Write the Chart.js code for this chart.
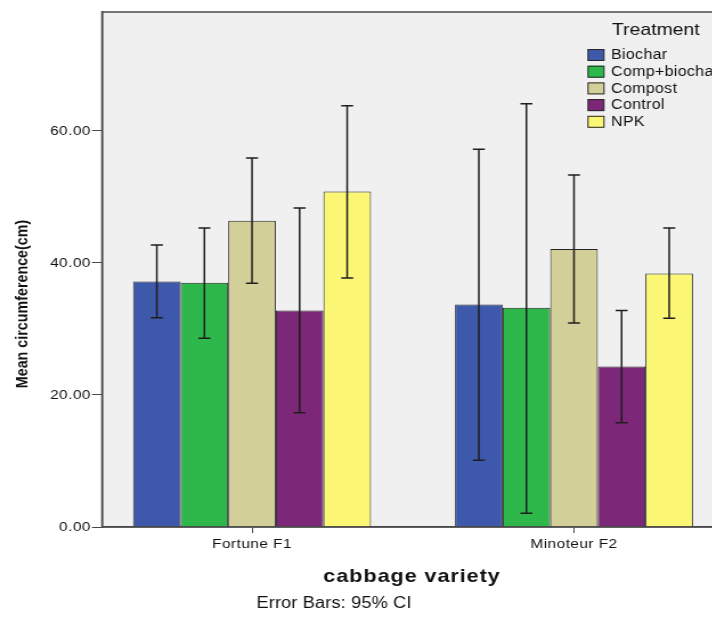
<!DOCTYPE html>
<html>
<head>
<meta charset="utf-8">
<script src="https://cdn.jsdelivr.net/npm/chart.js@4/dist/chart.umd.min.js"></script>
<style>
  html, body { margin: 0; padding: 0; background: #fff; overflow: hidden; }
  #wrap { width: 712px; height: 619px; overflow: hidden; }
  /* the original picture is stretched sideways, so the canvas is too */
  #myChart { transform: scaleX(1.14); transform-origin: 0 0; }
</style>
</head>
<body>
<div id="wrap"><canvas id="myChart" width="641" height="619"></canvas></div>
<script>
// data
var varieties = ['Fortune F1', 'Minoteur F2'];
var treatments = ['Biochar', 'Comp+biochar', 'Compost', 'Control', 'NPK'];
var colors = ['#3e58ac', '#2eb84b', '#d3cf99', '#7c2778', '#fbf774'];

// means per treatment, [Fortune F1, Minoteur F2]
var biochar = [37.2, 33.7];
var compBiochar = [37.0, 33.2];
var compost = [46.4, 42.1];
var control = [32.8, 24.3];
var npk = [50.8, 38.4];

// 95% CI lower / upper
var ciLow = [[31.7, 10.1], [28.6, 2.1], [36.9, 30.9], [17.3, 15.8], [37.7, 31.6]];
var ciHigh = [[42.7, 57.2], [45.3, 64.1], [55.9, 53.3], [48.3, 32.8], [63.8, 45.3]];

var yTicks = [0, 20, 40, 60];

var means = [biochar, compBiochar, compost, control, npk];
var FONT = '"Liberation Sans", Arial, sans-serif';
var S = 1.14; // horizontal stretch
function cx(v) { return v / S; } // page x -> canvas x

var datasets = treatments.map(function(t, i) {
  return {
    label: t,
    data: means[i].map(function(v, j) { return { x: j, y: v }; }),
    backgroundColor: colors[i],
    borderColor: '#262626',
    borderWidth: 1,
    categoryPercentage: 0.739,
    barPercentage: 1.0
  };
});

// grey plot background + frame
var plotFrame = {
  id: 'plotFrame',
  beforeDraw: function(chart) {
    var a = chart.chartArea, c = chart.ctx;
    c.letterSpacing = '0.4px';
    c.save();
    c.fillStyle = '#f0f0f0';
    c.fillRect(a.left, a.top, a.right - a.left, a.bottom - a.top);
    c.restore();
  },
  afterDatasetsDraw: function(chart) {
    var a = chart.chartArea, c = chart.ctx;
    c.save();
    c.strokeStyle = '#4a4a4a';
    c.lineWidth = 1.5;
    c.strokeRect(a.left, a.top, a.right - a.left, a.bottom - a.top);
    c.restore();
  }
};

// 95% CI whiskers
var errorBars = {
  id: 'errorBars',
  afterDatasetsDraw: function(chart) {
    var c = chart.ctx, y = chart.scales.y, w = cx(6);
    c.save();
    c.strokeStyle = '#1e1e1e';
    c.lineWidth = 1.5;
    chart.data.datasets.forEach(function(ds, i) {
      var meta = chart.getDatasetMeta(i);
      meta.data.forEach(function(bar, j) {
        var x = bar.x;
        var top = y.getPixelForValue(ciHigh[i][j]);
        var bot = y.getPixelForValue(ciLow[i][j]);
        c.beginPath();
        c.moveTo(x, top); c.lineTo(x, bot);
        c.moveTo(x - w, top); c.lineTo(x + w, top);
        c.moveTo(x - w, bot); c.lineTo(x + w, bot);
        c.stroke();
      });
    });
    c.restore();
  }
};

// legend inside plot, titles and footnote
var annotations = {
  id: 'annotations',
  afterDraw: function(chart) {
    var c = chart.ctx;
    c.save();
    c.fillStyle = '#111';
    c.textBaseline = 'middle';

    // legend
    c.font = '17px ' + FONT;
    c.textAlign = 'left';
    c.letterSpacing = '0px';
    c.fillText('Treatment', cx(612), 30);
    c.font = '14px ' + FONT;
    c.letterSpacing = '0.3px';
    chart.data.datasets.forEach(function(ds, i) {
      var yy = 55 + i * 16.7;
      c.fillStyle = ds.backgroundColor;
      c.fillRect(cx(588), yy - 6, cx(16), 12);
      c.strokeStyle = '#262626';
      c.lineWidth = 1;
      c.strokeRect(cx(588), yy - 5.5, cx(16), 11);
      c.fillStyle = '#111';
      c.fillText(ds.label, cx(611), yy + 0.5);
    });

    // y title
    c.save();
    c.translate(cx(23), 304);
    c.rotate(-Math.PI / 2);
    c.textAlign = 'center';
    c.font = 'bold 14.3px ' + FONT;
    c.letterSpacing = '0px';
    c.fillText('Mean circumference(cm)', 0, 0);
    c.restore();

    // x title
    c.textAlign = 'center';
    c.font = 'bold 19px ' + FONT;
    c.letterSpacing = '0.8px';
    c.fillText('cabbage variety', cx(412), 577);

    // footnote
    c.font = '16px ' + FONT;
    c.letterSpacing = '0.1px';
    c.fillText('Error Bars: 95% CI', cx(334), 604);
    c.restore();
  }
};

var ctx = document.getElementById('myChart');
var chart = new Chart(ctx, {
  type: 'bar',
  data: { datasets: datasets },
  options: {
    responsive: false,
    animation: false,
    layout: { padding: { top: 12, right: 641 - cx(722), left: 0, bottom: 0 } },
    plugins: {
      legend: { display: false },
      tooltip: { enabled: false }
    },
    scales: {
      x: {
        type: 'linear',
        offset: false,
        min: -150 / 322,
        max: 1 + 148 / 322,
        afterBuildTicks: function(scale) {
          scale.ticks = varieties.map(function(v, i) { return { value: i }; });
        },
        afterFit: function(scale) { scale.height = 92; },
        ticks: {
          callback: function(v) { return varieties[v]; },
          color: '#111',
          font: { family: FONT, size: 13.5 },
          padding: 3,
          maxRotation: 0
        },
        grid: { offset: false, drawOnChartArea: false, tickLength: 6, color: '#4a4a4a' },
        border: { color: '#4a4a4a', width: 1.5 }
      },
      y: {
        min: 0,
        max: 78,
        afterBuildTicks: function(scale) {
          scale.ticks = yTicks.map(function(v) { return { value: v }; });
        },
        afterFit: function(scale) { scale.width = cx(102); },
        ticks: {
          callback: function(v) { return v.toFixed(2); },
          color: '#111',
          font: { family: FONT, size: 13.5 },
          padding: 1
        },
        grid: { drawOnChartArea: false, tickLength: cx(10), color: '#4a4a4a' },
        border: { color: '#4a4a4a', width: 1.5 }
      }
    }
  },
  plugins: [plotFrame, errorBars, annotations]
});
</script>
</body>
</html>
